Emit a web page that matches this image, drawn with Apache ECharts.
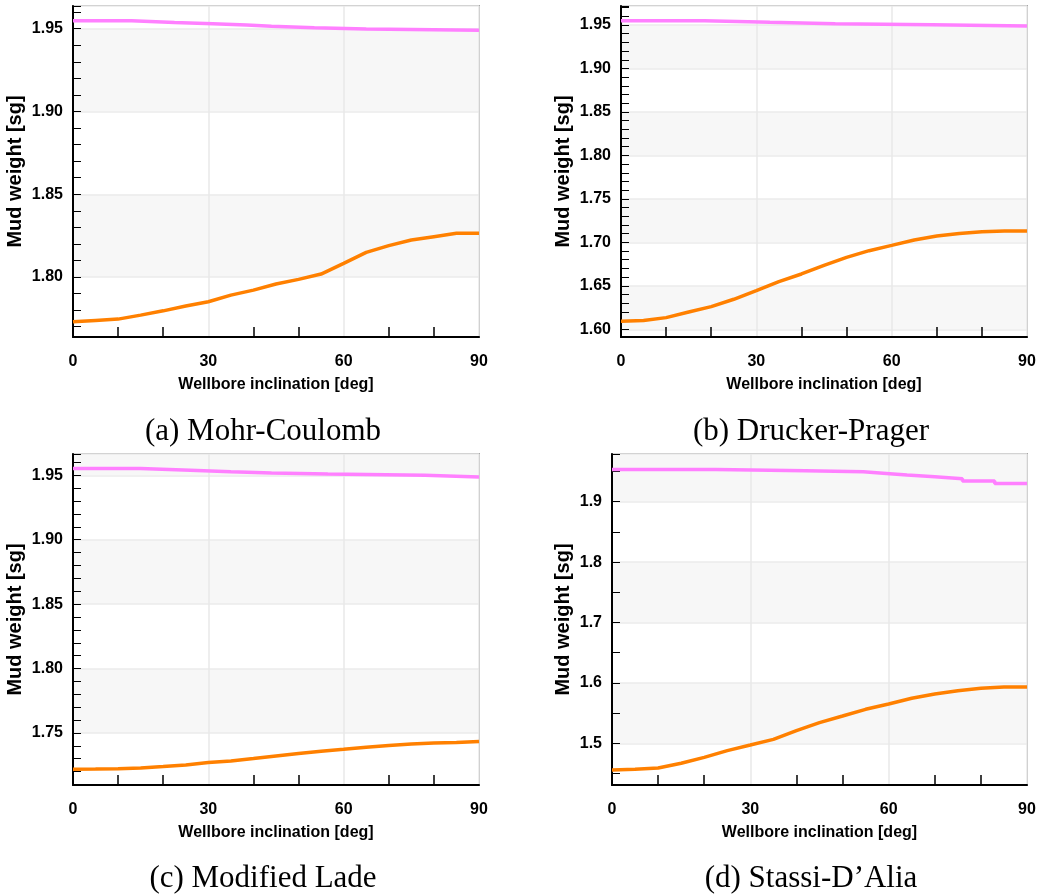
<!DOCTYPE html>
<html><head><meta charset="utf-8">
<script src="https://cdn.jsdelivr.net/npm/echarts@6/dist/echarts.min.js"></script>
<style>html,body{margin:0;padding:0;background:#fff}#c{width:1039px;height:895px}</style>
</head><body><div id="c"></div>
<script>
// ---- data ----
const inclination = [0,5,10,15,20,25,30,35,40,45,50,55,60,65,70,75,80,85,90];
const xTicks = [0,30,60,90];
const captions = ['(a) Mohr-Coulomb','(b) Drucker-Prager','(c) Modified Lade','(d) Stassi-D\u2019Alia'];

// lower (orange) curves
const lowerMC = [1.7730,1.7738,1.7746,1.7770,1.7796,1.7825,1.7851,1.7891,1.7921,1.7958,1.7986,1.8018,1.8083,1.8149,1.8190,1.8224,1.8244,1.8264,1.8264];
const lowerDP = [1.6092,1.6100,1.6134,1.6199,1.6260,1.6345,1.6444,1.6548,1.6636,1.6735,1.6827,1.6904,1.6965,1.7027,1.7072,1.7103,1.7122,1.7130,1.7130];
const lowerML = [1.7218,1.7220,1.7223,1.7228,1.7239,1.7252,1.7270,1.7283,1.7301,1.7321,1.7340,1.7358,1.7373,1.7389,1.7402,1.7415,1.7422,1.7425,1.7433];
const lowerSD = [1.4559,1.4570,1.4592,1.4669,1.4768,1.4879,1.4972,1.5066,1.5210,1.5342,1.5452,1.5563,1.5651,1.5745,1.5817,1.5872,1.5910,1.5932,1.5932];

// upper (pink) step curves: inclination where a step starts, and its value
const upperMCx = [0,13,22.5,31,38.5,44,53.5,65,90];
const upperMC  = [1.9548,1.9538,1.9530,1.9522,1.9514,1.9506,1.9498,1.9490,1.9490];
const upperDPx = [0,18.5,33,47.5,69,90];
const upperDP  = [1.9550,1.9531,1.9515,1.9504,1.9489,1.9489];
const upperMLx = [0,15,26,35,44,56.5,78,90];
const upperML  = [1.9552,1.9539,1.9528,1.9518,1.9510,1.9500,1.9487,1.9487];
const upperSDx = [0,22.5,42,54.5,59.5,64,70,76,83,90];
const upperSD  = [1.9535,1.9513,1.9497,1.9469,1.9441,1.9414,1.9381,1.9342,1.9303,1.9303];

// axis ranges per panel
const yMin = [1.7638,1.5911,1.7096,1.4310];
const yMax = [1.9637,1.9719,1.9665,1.9790];
const ySplit = [4,8,5,5];          // gives steps of 0.05,0.05,0.05,0.1
const yStepLabel = [0.05,0.05,0.05,0.1];
const yMinorSplit = [5,5,5,2];
const yDecimals = [2,2,2,1];

const lowers = [lowerMC,lowerDP,lowerML,lowerSD];
const uppersX = [upperMCx,upperDPx,upperMLx,upperSDx];
const uppers = [upperMC,upperDP,upperML,upperSD];

// ---- layout ----
const grids = [
  {left:73, top:6, width:406, height:331},
  {left:621, top:6, width:406, height:331},
  {left:73, top:454, width:406, height:331},
  {left:612, top:454, width:415, height:331}
];
const capPos = [[258,411],[806,411],[258,858],[806,858]];
const yNameGap = [48,48,48,39];

const lblFont = {fontFamily:'"Liberation Sans", Arial, sans-serif', fontWeight:'bold', color:'#000'};

const option = {
  backgroundColor:'#fff',
  animation:false,
  title: captions.map((t,i)=>({
    text:t, left:capPos[i][0], top:capPos[i][1], textAlign:'center',
    textStyle:{fontFamily:'"Liberation Serif", "DejaVu Serif", serif', fontWeight:'normal', fontSize:31, color:'#000'}
  })),
  grid: grids.map(g=>Object.assign({show:true, borderColor:'#666', borderWidth:1.5, backgroundColor:'transparent'}, g)),
  xAxis: grids.map((g,i)=>({
    type:'value', gridIndex:i, min:0, max:90, interval:30,
    name:'Wellbore inclination [deg]', nameLocation:'middle', nameGap:40,
    nameTextStyle:Object.assign({fontSize:16}, lblFont),
    axisLine:{show:true, onZero:false, lineStyle:{color:'#000', width:2}},
    axisTick:{show:false, inside:true},
    minorTick:{show:true, splitNumber:3, length:10, lineStyle:{color:'#000', width:1.5}},
    axisLabel:Object.assign({fontSize:16, margin:17, formatter:v=>xTicks.includes(Math.round(v))?String(Math.round(v)):''}, lblFont),
    splitLine:{show:true, lineStyle:{color:'#e8e8e8', width:1.5}},
    minorSplitLine:{show:false}
  })),
  yAxis: grids.map((g,i)=>({
    type:'value', gridIndex:i, min:yMin[i], max:yMax[i], splitNumber:ySplit[i],
    name:'Mud weight [sg]', nameLocation:'middle', nameGap:yNameGap[i],
    nameTextStyle:Object.assign({fontSize:20}, lblFont),
    axisLine:{show:true, onZero:false, lineStyle:{color:'#000', width:2}},
    axisTick:{show:true, inside:true, length:8, lineStyle:{color:'#000', width:1}},
    minorTick:{show:true, splitNumber:yMinorSplit[i], length:8, lineStyle:{color:'#000', width:1}},
    axisLabel:Object.assign({fontSize:16, margin:10, showMinLabel:false, showMaxLabel:false,
      formatter:v=>{const k=v/yStepLabel[i]; return Math.abs(k-Math.round(k))<1e-6 ? v.toFixed(yDecimals[i]) : '';}}, lblFont),
    splitLine:{show:true, lineStyle:{color:'#ebebeb', width:1.5}},
    splitArea:{show:true, areaStyle:{color:['#ffffff','#f7f7f7']}}
  })),
  series: []
};
for (let i=0;i<4;i++){
  option.series.push({
    type:'line', xAxisIndex:i, yAxisIndex:i, showSymbol:false, symbol:'none',
    data: inclination.map((x,k)=>[x, lowers[i][k]]),
    lineStyle:{color:'#ff8000', width:3.5}
  });
  option.series.push({
    type:'line', xAxisIndex:i, yAxisIndex:i, showSymbol:false, symbol:'none', step:'end',
    data: uppersX[i].map((x,k)=>[x, uppers[i][k]]),
    lineStyle:{color:'#ff80ff', width:3.5}
  });
}
const chart = echarts.init(document.getElementById('c'), null, {renderer:'canvas'});
chart.setOption(option);
</script>
</body></html>
